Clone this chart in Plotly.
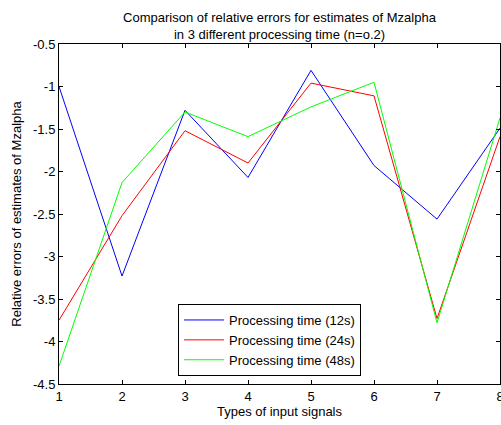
import plotly.graph_objects as go

signal_types = [1, 2, 3, 4, 5, 6, 7, 8]
err_12s = [-1.00, -3.23, -1.28, -2.07, -0.81, -1.93, -2.56, -1.49]
err_24s = [-3.75, -2.52, -1.52, -1.90, -0.96, -1.11, -3.73, -1.59]
err_48s = [-4.29, -2.13, -1.30, -1.59, -1.24, -0.95, -3.78, -1.37]
series_names = ["Processing time (12s)", "Processing time (24s)", "Processing time (48s)"]
series_colors = ["#0000ff", "#ff0000", "#00ff00"]
x_ticks = [1, 2, 3, 4, 5, 6, 7, 8]
y_ticks = [-0.5, -1, -1.5, -2, -2.5, -3, -3.5, -4, -4.5]
y_tick_text = ["-0.5", "-1", "-1.5", "-2", "-2.5", "-3", "-3.5", "-4", "-4.5"]

FONT = "Liberation Sans, Arial, sans-serif"
FS = 13

fig = go.Figure()
for ys, name, col in zip([err_12s, err_24s, err_48s], series_names, series_colors):
    fig.add_trace(go.Scatter(x=signal_types, y=ys, mode="lines", name=name,
                             line=dict(color=col, width=1)))

axis_common = dict(showgrid=False, zeroline=False, showline=True, linecolor="black",
                   linewidth=1, mirror="allticks", ticks="inside", ticklen=4,
                   tickcolor="black", tickwidth=1, automargin=False,
                   ticklabeloverflow="allow",
                   tickfont=dict(family=FONT, size=FS, color="black"))

fig.update_layout(
    width=501, height=425,
    margin=dict(l=59, r=1, t=44, b=41),
    paper_bgcolor="white", plot_bgcolor="white",
    font=dict(family=FONT, size=FS, color="black"),
    title=dict(text="Comparison of relative errors for estimates of Mzalpha<br>in 3 different processing time (n=o.2)",
               x=(59 + 500) / 2 / 501, xanchor="center", y=1 - 22 / 425, yanchor="middle",
               font=dict(family=FONT, size=FS, color="black")),
    xaxis=dict(range=[1, 8], tickvals=x_ticks, ticktext=[str(v) for v in x_ticks],
               title=dict(text="Types of input signals", font=dict(family=FONT, size=FS), standoff=4),
               **axis_common),
    yaxis=dict(range=[-4.5, -0.5], tickvals=y_ticks, ticktext=y_tick_text,
               title=dict(text="Relative errors of estimates of Mzalpha", font=dict(family=FONT, size=FS), standoff=8),
               **axis_common),
    legend=dict(x=0.27, y=0.0235, xanchor="left", yanchor="bottom",
                bgcolor="white", bordercolor="black", borderwidth=1, itemwidth=40,
                font=dict(family=FONT, size=FS, color="black"), tracegroupgap=0),
    showlegend=True,
)

fig.write_html("out.html")
